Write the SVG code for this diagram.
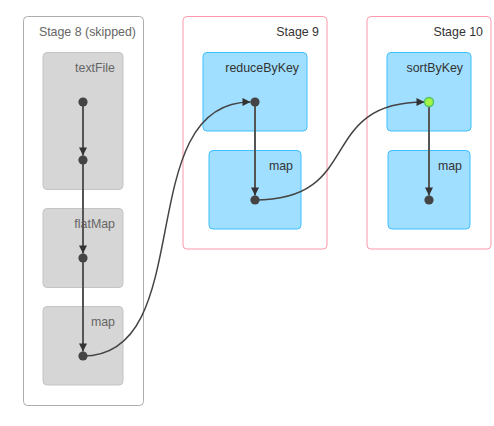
<svg xmlns="http://www.w3.org/2000/svg" width="494" height="426" viewBox="0 0 494 426">
<style>
text { font-family: "Liberation Sans", Arial, sans-serif; font-size: 12.4px; fill: #333; text-anchor: end; }
.stage { fill: #fff; stroke: #ff99ac; stroke-width: 1; }
.stage.skipped { stroke: #adadad; }
.op { fill: #a0dfff; stroke: #3ec0ff; stroke-width: 1; }
.op.skipped { fill: #d6d6d6; stroke: #c4c4c4; }
.skipped-text { fill: #666; }
.dot { fill: #444; }
.cached { fill: #a3f545; stroke: #52c366; stroke-width: 1.5; }
.inner { fill: none; stroke: #555; stroke-width: 2; marker-end: url(#arr); }
.cross { fill: none; stroke: #444; stroke-width: 1.5; marker-end: url(#arr); }
</style>
<defs>
<marker id="arr" viewBox="0 0 10 10" refX="10" refY="5" markerWidth="9" markerHeight="8" markerUnits="userSpaceOnUse" orient="auto">
<path d="M0,0 L10,5 L0,10 z" fill="#333"/>
</marker>
</defs>
<g id="stage8">
<rect class="stage skipped" x="23.5" y="16.5" width="120" height="389" rx="4"/>
<text class="skipped-text" x="136" y="36">Stage 8 (skipped)</text>
</g>
<g id="stage9">
<rect class="stage" x="183" y="16.5" width="144" height="232.5" rx="4"/>
<text x="319" y="36">Stage 9</text>
</g>
<g id="stage10">
<rect class="stage" x="367" y="16.5" width="124" height="232.5" rx="4"/>
<text x="483" y="36">Stage 10</text>
</g>
<g id="textFile">
<rect class="op skipped" x="43" y="52.5" width="80" height="137" rx="4"/>
<text class="skipped-text" x="115" y="72">textFile</text>
</g>
<g id="flatMap">
<rect class="op skipped" x="43" y="208.5" width="80" height="79" rx="4"/>
<text class="skipped-text" x="115" y="228">flatMap</text>
</g>
<g id="map8">
<rect class="op skipped" x="43" y="306.5" width="80" height="78.5" rx="4"/>
<text class="skipped-text" x="115" y="326">map</text>
</g>
<g id="reduceByKey">
<rect class="op" x="203" y="52.5" width="104" height="78.5" rx="4"/>
<text x="299" y="72">reduceByKey</text>
</g>
<g id="map9">
<rect class="op" x="209" y="150.5" width="92" height="78.5" rx="4"/>
<text x="293" y="170">map</text>
</g>
<g id="sortByKey">
<rect class="op" x="387" y="52.5" width="84" height="78.5" rx="4"/>
<text x="463" y="72">sortByKey</text>
</g>
<g id="map10">
<rect class="op" x="388" y="150.5" width="82" height="78.5" rx="4"/>
<text x="462" y="170">map</text>
</g>
<g id="connectors">
<path class="inner" d="M83,102 L83,155.5"/>
<path class="inner" d="M83,160 L83,253.5"/>
<path class="inner" d="M83,258 L83,351.5"/>
<path class="inner" d="M255,102 L255,195.5"/>
<path class="inner" d="M429,102 L429,195.5"/>
<path class="cross" d="M83,356 C200,356 130,102 250.5,102"/>
<path class="cross" d="M255,200 C365,200 315,102 424.5,102"/>
</g>
<g id="dots">
<circle class="dot" cx="83" cy="102" r="4.6"/>
<circle class="dot" cx="83" cy="160" r="4.6"/>
<circle class="dot" cx="83" cy="258" r="4.6"/>
<circle class="dot" cx="83" cy="356" r="4.6"/>
<circle class="dot" cx="255" cy="102" r="4.6"/>
<circle class="dot" cx="255" cy="200" r="4.6"/>
<circle class="cached" cx="429" cy="102" r="4.5"/>
<circle class="dot" cx="429" cy="200" r="4.6"/>
</g>
</svg>
